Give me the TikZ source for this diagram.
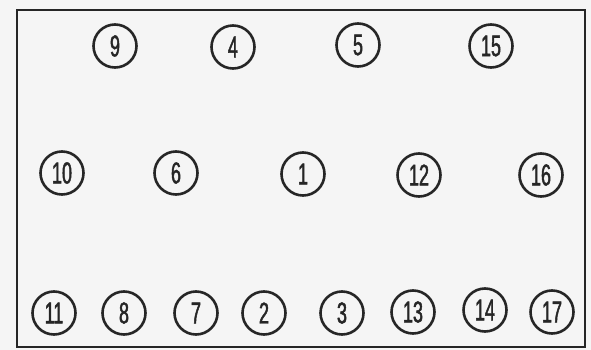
\documentclass[tikz,border=0pt]{standalone}
\usepackage{fontspec}
\newfontfamily\numfont[FakeStretch=0.6,FakeBold=1.5]{Liberation Sans}
\begin{document}
\begin{tikzpicture}[x=1pt,y=-1pt,
  num/.style={circle,draw=black!85,line width=2.6pt,minimum size=43pt,inner sep=0pt,
    font=\numfont\fontsize{30}{30}\selectfont,text=black!85},
  frame/.style={draw=black!85,line width=2.2pt}]
\useasboundingbox[fill=white!96!black] (0,0) rectangle (591,350);
\draw[frame] (17,10) rectangle (585,347);
% top row
\node[num] (n9)  at (115,46) {9};
\node[num] (n4)  at (233,47) {4};
\node[num] (n5)  at (358,45) {5};
\node[num] (n15) at (491,46) {15};
% middle row
\node[num] (n10) at (62,173) {10};
\node[num] (n6)  at (176,173) {6};
\node[num] (n1)  at (303,174) {1};
\node[num] (n12) at (419,175) {12};
\node[num] (n16) at (541,175) {16};
% bottom row
\node[num] (n11) at (54,313) {11};
\node[num] (n8)  at (124,313) {8};
\node[num] (n7)  at (196,313) {7};
\node[num] (n2)  at (264,313) {2};
\node[num] (n3)  at (342,313) {3};
\node[num] (n13) at (413,312) {13};
\node[num] (n14) at (485,310) {14};
\node[num] (n17) at (552,312) {17};
\end{tikzpicture}
\end{document}
